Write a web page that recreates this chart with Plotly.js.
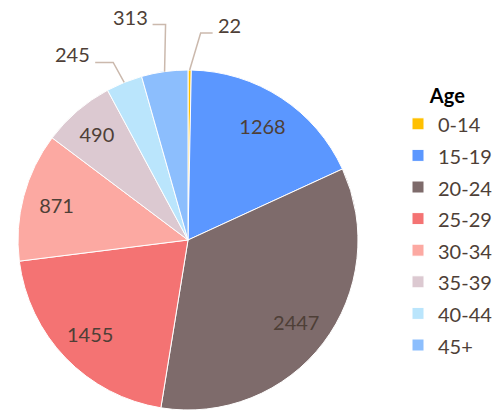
<!DOCTYPE html>
<html><head><meta charset="utf-8">
<script src="https://cdn.plot.ly/plotly-3.0.1.min.js"></script>
<style>html,body{margin:0;padding:0;background:#fff}</style>
</head><body><div id="chart" style="width:504px;height:411px"></div>
<script>
const ageGroups = ["0-14","15-19","20-24","25-29","30-34","35-39","40-44","45+"];
const counts = [22,1268,2447,1455,871,490,245,313];
const sliceColors = ["#FFC000","#5B97FF","#7E6B6B","#F47373","#FCA9A2","#DCC9D1","#BAE5FC","#8CBEFD"];
const labelPlacement = ["outside","inside","inside","inside","inside","inside","outside","outside"];

const W = 504, H = 411;
const FONT = "Lato, 'Open Sans', sans-serif";
const TXT = "#4E3F37";
// pie geometry (pixels)
const pieLeft = 18, pieRight = 358, pieTop = 70, pieBottom = 410;
const cx = (pieLeft + pieRight) / 2, cy = (pieTop + pieBottom) / 2, R = (pieRight - pieLeft) / 2;
const domain = {x: [pieLeft / W, pieRight / W], y: [1 - pieBottom / H, 1 - pieTop / H]};

const legendNames = ageGroups.map(g => '<span style="font-size:20px">' + g + '</span>');

const mainPie = {
  type: "pie", name: "Age",
  labels: legendNames, values: counts,
  sort: false, direction: "clockwise", rotation: 0,
  marker: {colors: sliceColors, line: {color: "#ffffff", width: 1}},
  textinfo: "none", hoverinfo: "value",
  domain: domain
};
// transparent ring carrying the inside value labels at ~0.8 R
const labelRing = {
  type: "pie", showlegend: false,
  labels: legendNames, values: counts,
  sort: false, direction: "clockwise", rotation: 0, hole: 0.6,
  marker: {colors: counts.map(() => "rgba(0,0,0,0)"), line: {width: 0}},
  textinfo: "value",
  textposition: labelPlacement.map(p => p === "inside" ? "inside" : "none"),
  insidetextorientation: "horizontal",
  textfont: {family: FONT, size: 20, color: TXT},
  hoverinfo: "skip",
  domain: domain
};

// leader lines + outside labels for small slices (positions derived from data angles)
const total = counts.reduce((a, b) => a + b, 0);
const leaderStyle = {0: {ex: 11, ey: -37, run: 12}, 6: {ex: -11, ey: -20, run: -18}, 7: {ex: 1, ey: -47, run: -13}};
const shapes = [], annotations = [];
let cum = 0;
counts.forEach((v, i) => {
  const mid = (cum + v / 2) / total * 2 * Math.PI;
  cum += v;
  if (labelPlacement[i] !== "outside") return;
  const s = leaderStyle[i];
  const x0 = cx + R * Math.sin(mid), y0 = cy - R * Math.cos(mid);
  const x1 = x0 + s.ex, y1 = y0 + s.ey, x2 = x1 + s.run;
  const px = x => x / W, py = y => 1 - y / H;
  shapes.push({type: "path", xref: "paper", yref: "paper",
    path: `M${px(x0)},${py(y0)} L${px(x1)},${py(y1)} L${px(x2)},${py(y1)}`,
    line: {color: "#CBB9AD", width: 1.5}});
  annotations.push({xref: "paper", yref: "paper", showarrow: false,
    x: px(x2 + (s.run > 0 ? 3 : -3)), y: py(y1 - 8),
    xanchor: s.run > 0 ? "left" : "right", yanchor: "middle",
    text: String(v), font: {family: FONT, size: 20, color: TXT}});
});

const layout = {
  width: W, height: H,
  margin: {l: 0, r: 0, t: 0, b: 0},
  paper_bgcolor: "#ffffff",
  showlegend: true,
  shapes: shapes, annotations: annotations,
  legend: {
    x: 398 / W, y: 1 - 77 / H, xanchor: "left", yanchor: "top",
    title: {text: "<b>Age</b>", side: "top center", font: {family: FONT, size: 20, color: "#000000"}},
    font: {family: FONT, size: 22, color: TXT},
    itemwidth: 30
  }
};

Plotly.newPlot("chart", [mainPie, labelRing], layout, {displayModeBar: false, staticPlot: true});
</script></body></html>
